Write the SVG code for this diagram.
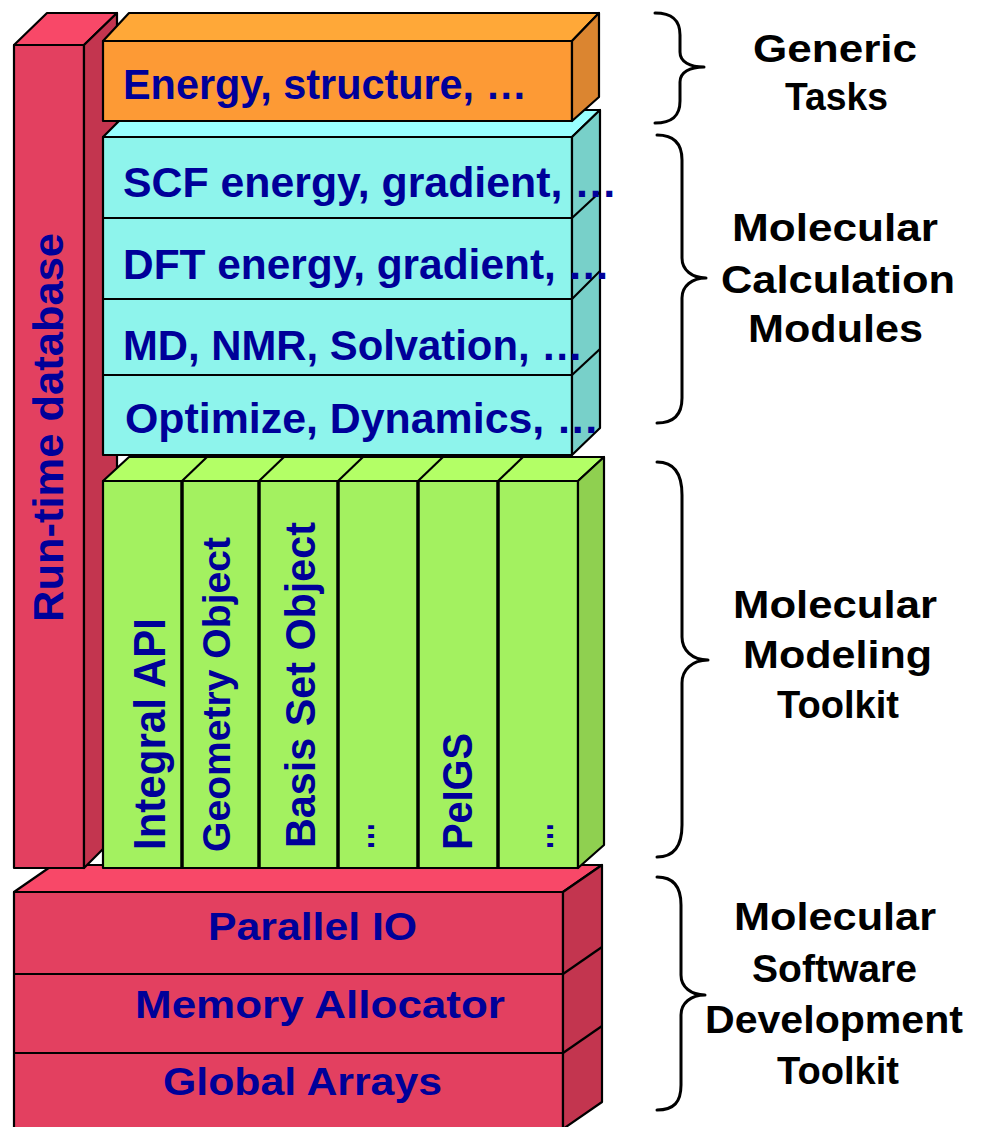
<svg xmlns="http://www.w3.org/2000/svg" width="986" height="1127" viewBox="0 0 986 1127">
<style>
.e{stroke:#000;stroke-width:2.2;stroke-linejoin:round}
.col{stroke:#000;stroke-width:3.5;fill:none}
.ln{stroke:#000;stroke-width:2.2;fill:none}
.rf{fill:#E34060}.rt{fill:#F84868}.rs{fill:#C3354F}
.of{fill:#FD9A35}.ot{fill:#FFA838}.os{fill:#DB8530}
.cf{fill:#8EF4EC}.ct{fill:#99FFFF}.cs{fill:#78D0C9}
.gf{fill:#A3F160}.gt{fill:#B3FF66}.gs{fill:#8FD050}
.t{font-family:"Liberation Sans",Arial,sans-serif;font-weight:bold;fill:#000099}
.l{font-family:"Liberation Sans",Arial,sans-serif;font-weight:bold;fill:#000;font-size:39px}
.b{fill:none;stroke:#000;stroke-width:3;stroke-linecap:round;stroke-linejoin:round}
</style>
<rect width="986" height="1127" fill="#fff"/>

<g id="msdt">
<rect class="e rf" x="14" y="892" width="549" height="237"/>
<polygon class="e rt" points="14,892 53,865 602,865 563,892"/>
<polygon class="e rs" points="563,892 602,865 602,1102 563,1129"/>
<line class="ln" x1="14" y1="974" x2="563" y2="974"/>
<line class="ln" x1="563" y1="974" x2="602" y2="947"/>
<line class="ln" x1="14" y1="1053" x2="563" y2="1053"/>
<line class="ln" x1="563" y1="1053" x2="602" y2="1026"/>
<text class="t" x="208" y="940" font-size="39" textLength="209" lengthAdjust="spacingAndGlyphs">Parallel IO</text>
<text class="t" x="135" y="1018" font-size="39" textLength="370" lengthAdjust="spacingAndGlyphs">Memory Allocator</text>
<text class="t" x="163" y="1095" font-size="39" textLength="279" lengthAdjust="spacingAndGlyphs">Global Arrays</text>
</g>

<g id="runtime-db">
<rect class="e rf" x="14" y="45" width="70" height="823"/>
<polygon class="e rt" points="14,45 47,13 117,13 84,45"/>
<polygon class="e rs" points="84,45 117,13 117,835 84,868"/>
<text class="t" font-size="42" transform="translate(63,622) rotate(-90)" textLength="389" lengthAdjust="spacingAndGlyphs">Run-time database</text>
</g>

<g id="mmt">
<rect class="e gf" x="103" y="481" width="475" height="387"/>
<polygon class="e gt" points="103,481 129,457 604,457 578,481"/>
<polygon class="e gs" points="578,481 604,457 604,845 578,868"/>
<line class="col" x1="182" y1="481" x2="182" y2="868"/>
<line class="col" x1="259" y1="481" x2="259" y2="868"/>
<line class="col" x1="338" y1="481" x2="338" y2="868"/>
<line class="col" x1="418" y1="481" x2="418" y2="868"/>
<line class="col" x1="498" y1="481" x2="498" y2="868"/>
<line class="ln" x1="182" y1="481" x2="207" y2="457"/>
<line class="ln" x1="259" y1="481" x2="284" y2="457"/>
<line class="ln" x1="338" y1="481" x2="363" y2="457"/>
<line class="ln" x1="418" y1="481" x2="443" y2="457"/>
<line class="ln" x1="498" y1="481" x2="523" y2="457"/>
<text class="t" font-size="44" transform="translate(165,850) rotate(-90)" textLength="232" lengthAdjust="spacingAndGlyphs">Integral API</text>
<text class="t" font-size="39" transform="translate(230,852) rotate(-90)" textLength="315" lengthAdjust="spacingAndGlyphs">Geometry Object</text>
<text class="t" font-size="43" transform="translate(315,848) rotate(-90)" textLength="326" lengthAdjust="spacingAndGlyphs">Basis Set Object</text>
<text class="t" font-size="39" transform="translate(374,850) rotate(-90)" textLength="28" lengthAdjust="spacingAndGlyphs">…</text>
<text class="t" font-size="43" transform="translate(472,850) rotate(-90)" textLength="117" lengthAdjust="spacingAndGlyphs">PeIGS</text>
<text class="t" font-size="39" transform="translate(553,850) rotate(-90)" textLength="28" lengthAdjust="spacingAndGlyphs">…</text>
</g>

<g id="mcm">
<rect class="e cf" x="103" y="137" width="469" height="318"/>
<polygon class="e ct" points="103,137 130,110 600,110 572,137"/>
<polygon class="e cs" points="572,137 600,110 600,428 572,455"/>
<line class="ln" x1="103" y1="218" x2="572" y2="218"/>
<line class="ln" x1="572" y1="218" x2="600" y2="192"/>
<line class="ln" x1="103" y1="299" x2="572" y2="299"/>
<line class="ln" x1="572" y1="299" x2="600" y2="271"/>
<line class="ln" x1="103" y1="375" x2="572" y2="375"/>
<line class="ln" x1="572" y1="375" x2="600" y2="349"/>
<text class="t" x="123" y="197" font-size="42" textLength="494" lengthAdjust="spacingAndGlyphs">SCF energy, gradient, …</text>
<text class="t" x="123" y="279" font-size="42" textLength="487" lengthAdjust="spacingAndGlyphs">DFT energy, gradient, …</text>
<text class="t" x="123" y="360" font-size="42" textLength="460" lengthAdjust="spacingAndGlyphs">MD, NMR, Solvation, …</text>
<text class="t" x="125" y="433" font-size="42" textLength="474" lengthAdjust="spacingAndGlyphs">Optimize, Dynamics, …</text>
</g>

<g id="generic-tasks">
<rect class="e of" x="103" y="41" width="469" height="80"/>
<polygon class="e ot" points="103,41 129,13 599,13 572,41"/>
<polygon class="e os" points="572,41 599,13 599,97 572,121"/>
<text class="t" x="123" y="99" font-size="42" textLength="404" lengthAdjust="spacingAndGlyphs">Energy, structure, …</text>
</g>

<g id="connectors">
<path class="b" d="M655,13 C672,13 680,20 680,35 L680,52 C680,62 690,67 704,67 C690,67 680,72 680,82 L680,101 C680,116 672,123 655,123"/>
<path class="b" d="M657,135 C675,135 682,145 682,160 L682,258 C682,270 692,278 706,278 C692,278 682,286 682,298 L682,398 C682,413 675,423 657,423"/>
<path class="b" d="M657,462 C675,462 682,475 682,495 L682,637 C682,650 692,660 708,660 C692,660 682,670 682,683 L682,825 C682,845 675,857 657,857"/>
<path class="b" d="M657,877 C674,877 681,887 681,905 L681,975 C681,987 691,995 705,995 C691,995 681,1003 681,1015 L681,1085 C681,1102 674,1110 657,1110"/>
</g>

<g id="labels">
<text class="l" x="753" y="62" textLength="164" lengthAdjust="spacingAndGlyphs">Generic</text>
<text class="l" x="785" y="110" textLength="103" lengthAdjust="spacingAndGlyphs">Tasks</text>
<text class="l" x="732" y="241" textLength="206" lengthAdjust="spacingAndGlyphs">Molecular</text>
<text class="l" x="721" y="293" textLength="234" lengthAdjust="spacingAndGlyphs">Calculation</text>
<text class="l" x="748" y="342" textLength="175" lengthAdjust="spacingAndGlyphs">Modules</text>
<text class="l" x="733" y="618" textLength="204" lengthAdjust="spacingAndGlyphs">Molecular</text>
<text class="l" x="743" y="668" textLength="189" lengthAdjust="spacingAndGlyphs">Modeling</text>
<text class="l" x="777" y="718" textLength="122" lengthAdjust="spacingAndGlyphs">Toolkit</text>
<text class="l" x="734" y="930" textLength="202" lengthAdjust="spacingAndGlyphs">Molecular</text>
<text class="l" x="752" y="982" textLength="165" lengthAdjust="spacingAndGlyphs">Software</text>
<text class="l" x="705" y="1033" textLength="258" lengthAdjust="spacingAndGlyphs">Development</text>
<text class="l" x="777" y="1084" textLength="122" lengthAdjust="spacingAndGlyphs">Toolkit</text>
</g>
</svg>
